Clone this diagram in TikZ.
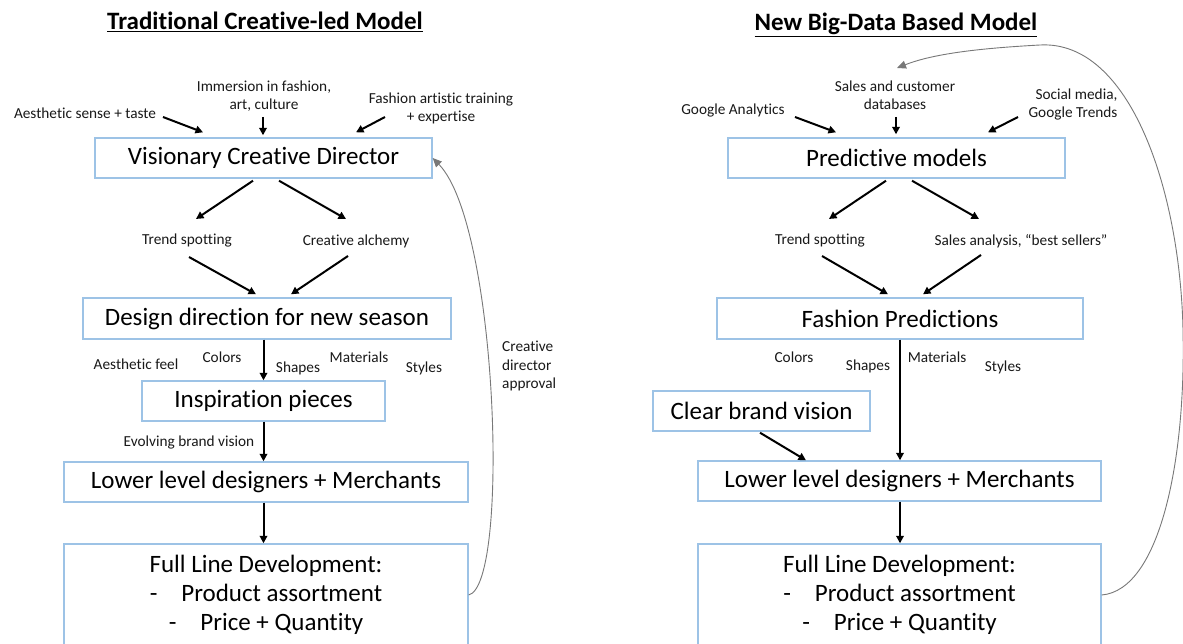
\documentclass[tikz,border=0pt]{standalone}
\usepackage{fontspec}
\setmainfont{Carlito}[Ligatures=NoCommon]
\usetikzlibrary{arrows.meta}
\definecolor{boxblue}{RGB}{157,195,230}
\definecolor{curvegray}{RGB}{120,120,120}
\begin{document}
\begin{tikzpicture}[x=1pt,y=-1pt,
  box/.style={draw=boxblue, line width=1.4pt, inner sep=0pt, text=black, font=\fontsize{25}{29}\selectfont, align=center},
  lbl/.style={inner sep=0pt, text=black!90, font=\fontsize{15.3}{18}\selectfont, align=center},
  ttl/.style={inner sep=0pt, font=\bfseries\fontsize{25}{29}\selectfont},
  arr/.style={-{Triangle[length=7.5pt,width=7.5pt]}, line width=2pt},
  loop/.style={-{Triangle[length=9pt,width=8pt]}, draw=curvegray, line width=0.9pt}
]
\useasboundingbox (0,0) rectangle (1183,644);
\fill[white] (0,0) rectangle (1183,644);

% ---------------- left model ----------------
\node[ttl] (t1) at (265,22) {\underline{Traditional Creative-led Model}};
\node[lbl] (aes) at (85,113) {Aesthetic sense + taste};
\node[lbl] (imm) at (264,96) {Immersion in fashion,\\art, culture};
\node[lbl] (fat) at (441,108) {Fashion artistic training\\+ expertise};
\node[box, minimum width=337pt, minimum height=40pt] (vcd) at (263.5,158) {Visionary Creative Director};
\node[lbl] (ts1) at (187,241) {Trend spotting};
\node[lbl] (ca) at (356,241) {Creative alchemy};
\node[box, minimum width=368pt, minimum height=41pt] (dd) at (267,318.5) {Design direction for new season};
\node[lbl] (af) at (136,364) {Aesthetic feel};
\node[lbl] (col1) at (222,357) {Colors};
\node[lbl] (sh1) at (298,368) {Shapes};
\node[lbl] (mat1) at (359,357) {Materials};
\node[lbl] (sty1) at (424,368) {Styles};
\node[box, minimum width=243pt, minimum height=40pt] (ip) at (263.5,401) {Inspiration pieces};
\node[lbl] (ebv) at (189,443) {Evolving brand vision};
\node[box, minimum width=404pt, minimum height=40pt] (ll1) at (266,482) {Lower level designers + Merchants};
\node[box, minimum width=404pt, minimum height=102pt] (fl1) at (266,595) {Full Line Development:\\-\hspace{24pt}Product assortment\\-\hspace{24pt}Price + Quantity};
\node[lbl, anchor=west, align=left, font=\fontsize{15.3}{18.5}\selectfont] (cda) at (502,366) {Creative\\director\\approval};

\draw[arr] ([shift={(78,4)}]aes.center) -- ([shift={(-60.5,-5)}]vcd.north);
\draw[arr] ([shift={(-1,21)}]imm.center) -- ([shift={(-0.5,-2)}]vcd.north);
\draw[arr] ([shift={(-56,9)}]fat.center) -- ([shift={(92.5,-5)}]vcd.north);
\draw[arr] ([shift={(-10.5,2)}]vcd.south) -- ([shift={(9,-22)}]ts1.center);
\draw[arr] ([shift={(15.5,2)}]vcd.south) -- ([shift={(-10,-22)}]ca.center);
\draw[arr] ([shift={(2,16)}]ts1.center) -- ([shift={(-11,-3)}]dd.north);
\draw[arr] ([shift={(-8,15)}]ca.center) -- ([shift={(24,-3)}]dd.north);
\draw[arr] (ip.north |- dd.south) -- (ip.north);
\draw[arr] (ip.south) -- (ip.south |- ll1.north);
\draw[arr] (ip.south |- ll1.south) -- (ip.south |- fl1.north);
\draw[loop] (fl1.east) .. controls (510,585) and (498,225) .. (vcd.east);

% ---------------- right model ----------------
\node[ttl] (t2) at (896,25) {\underline{New Big-Data Based Model}};
\node[lbl] (sales) at (895,95) {Sales and customer\\databases};
\node[lbl] (ga) at (733,111) {Google Analytics};
\node[lbl, align=right] (soc) at (1073,105) {Social media,\\Google Trends};
\node[box, minimum width=337pt, minimum height=40pt] (pm) at (896.5,158) {Predictive models};
\node[lbl] (ts2) at (820,241) {Trend spotting};
\node[lbl] (sa) at (1021,241) {Sales analysis, “best sellers”};
\node[box, minimum width=366pt, minimum height=41pt] (fp) at (900,318.5) {Fashion Predictions};
\node[lbl] (col2) at (794,357) {Colors};
\node[lbl] (sh2) at (868,366) {Shapes};
\node[lbl] (mat2) at (937,357) {Materials};
\node[lbl] (sty2) at (1003,367) {Styles};
\node[box, minimum width=217pt, minimum height=40pt] (cbv) at (761.5,411) {Clear brand vision};
\node[box, minimum width=403pt, minimum height=40pt] (ll2) at (899.5,481) {Lower level designers + Merchants};
\node[box, minimum width=403pt, minimum height=102pt] (fl2) at (899.5,595) {Full Line Development:\\-\hspace{24pt}Product assortment\\-\hspace{24pt}Price + Quantity};
\coordinate (loopend) at (897,68);

\draw[arr] ([shift={(62,6)}]ga.center) -- ([shift={(-60.5,-5)}]pm.north);
\draw[arr] ([shift={(1,22)}]sales.center) -- ([shift={(-0.5,-3)}]pm.north);
\draw[arr] ([shift={(-55,12)}]soc.center) -- ([shift={(91.5,-5)}]pm.north);
\draw[arr] ([shift={(-10.5,2)}]pm.south) -- ([shift={(9,-22)}]ts2.center);
\draw[arr] ([shift={(15.5,2)}]pm.south) -- ([shift={(-42,-22)}]sa.center);
\draw[arr] ([shift={(2,15)}]ts2.center) -- ([shift={(-12,-3)}]fp.north);
\draw[arr] ([shift={(-40,14)}]sa.center) -- ([shift={(23,-3)}]fp.north);
\draw[arr] (fp.south) -- (fp.south |- ll2.north);
\draw[arr] ([shift={(-1.5,1)}]cbv.south) -- ([shift={(-93.5,0)}]ll2.north);
\draw[arr] (fp.south |- ll2.south) -- (fp.south |- fl2.north);
\draw[loop] (fl2.east) .. controls (1160,590) and (1186,460) .. (1183,330)
  .. controls (1180,190) and (1130,40) .. (1040,45)
  .. controls (985,48) and (935,53) .. (loopend);
\end{tikzpicture}
\end{document}
